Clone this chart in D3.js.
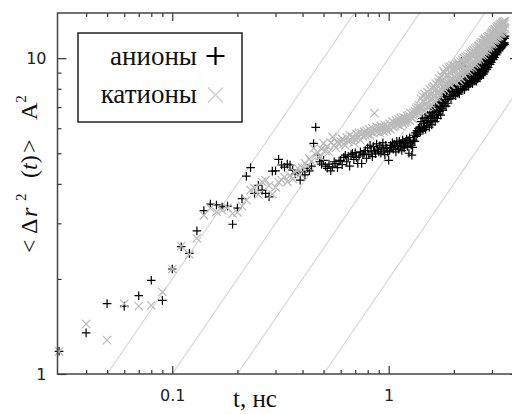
<!DOCTYPE html>
<html>
<head>
<meta charset="utf-8">
<script src="https://cdn.jsdelivr.net/npm/d3@7"></script>
<style>
  body { margin: 0; background: #fff; }
  .serif { font-family: "Liberation Serif", "Times New Roman", serif; }
</style>
</head>
<body>
<div id="chart"></div>
<script>
// time grid of the run, ns
const tFirst = 0.03;
const tStep = 0.01;

// <dr^2(t)>, A^2, one value per time step (t = 0.03 ... 3.45 ns)
const anions = [
  1.18, 1.35, 1.67, 1.64, 1.77, 1.98, 1.71,
  2.15, 2.53, 2.41, 2.84, 3.29, 3.45, 3.43, 3.38, 3.40, 2.98,
  3.35, 3.59, 4.23, 4.50, 3.73, 3.96, 3.82, 3.73, 3.64, 4.39,
  4.40, 4.78, 4.59, 4.52, 4.62, 4.59, 4.42, 4.30, 4.36, 4.11,
  4.37, 4.27, 4.48, 4.40, 4.55, 5.37, 6.04, 4.93, 4.70, 4.62,
  4.75, 4.55, 4.48, 4.62, 4.40, 4.53, 4.70, 4.64, 4.50, 4.72,
  4.75, 4.60, 4.85, 4.93, 4.70, 4.88, 4.55, 4.95, 5.00, 4.78,
  5.02, 4.85, 4.64, 4.90, 5.05, 4.64, 4.95, 5.00, 5.10, 4.82,
  5.20, 4.95, 5.30, 5.05, 4.88, 5.25, 5.10, 4.98, 5.35, 5.15,
  5.05, 5.28, 5.00, 5.20, 5.40, 5.12, 4.95, 5.30, 5.18, 5.05,
  4.75, 5.10, 5.30, 5.22, 5.40, 5.15, 5.35, 5.25, 5.05, 5.45,
  5.30, 5.15, 5.45, 5.25, 5.38, 5.10, 5.50, 5.30, 5.20, 5.42,
  5.35, 5.55, 5.25, 5.48, 5.00, 5.60, 5.40, 5.30, 4.93, 5.22,
  5.50, 5.70, 5.45, 5.80, 5.65, 5.90, 5.75, 6.00, 5.85, 6.05,
  5.85, 6.30, 6.00, 6.45, 5.90, 6.20, 6.05, 6.50, 5.95, 6.35,
  6.10, 6.60, 6.25, 6.45, 6.05, 6.70, 6.30, 6.55, 6.15, 6.75,
  6.35, 6.90, 6.50, 6.75, 6.30, 7.00, 6.60, 6.85, 6.45, 7.10,
  6.65, 7.25, 6.80, 7.05, 6.60, 7.40, 6.95, 7.20, 6.85, 7.55,
  7.10, 7.70, 7.30, 7.55, 7.05, 7.85, 7.40, 7.95, 7.20, 8.05,
  7.55, 8.20, 7.70, 8.05, 7.45, 8.30, 7.80, 8.10, 7.60, 8.35,
  7.70, 8.30, 7.85, 8.15, 7.60, 8.45, 7.95, 8.25, 7.75, 8.50,
  7.85, 8.40, 7.70, 8.55, 8.00, 8.35, 7.90, 9.75, 9.45, 8.60,
  8.00, 8.65, 8.15, 8.50, 7.95, 8.75, 8.25, 8.60, 8.10, 8.85,
  8.20, 8.80, 8.35, 8.65, 8.15, 8.95, 8.40, 8.75, 8.30, 9.05,
  8.35, 9.00, 8.50, 8.85, 8.30, 9.10, 8.60, 8.95, 8.45, 9.20,
  8.50, 9.15, 8.65, 9.05, 8.45, 9.30, 8.80, 9.15, 8.60, 9.40,
  8.70, 9.35, 8.85, 9.20, 8.65, 9.50, 9.00, 9.30, 8.80, 9.60,
  8.95, 9.65, 9.10, 9.45, 8.90, 9.80, 9.25, 9.60, 9.05, 9.90,
  9.25, 9.95, 9.40, 9.80, 9.20, 10.1, 9.55, 9.90, 9.35, 10.2,
  9.60, 10.3, 9.75, 10.15, 9.55, 10.4, 9.90, 10.25, 9.70, 10.5,
  9.95, 10.6, 10.1, 10.45, 9.90, 10.7, 10.2, 10.55, 10.05, 10.8,
  10.3, 10.9, 10.45, 10.75, 10.25, 11.0, 10.55, 10.85, 10.4, 11.1,
  10.6, 11.2, 10.75, 11.05, 10.55, 11.3, 10.85, 11.15, 10.7, 11.4,
  10.9, 11.5, 11.0, 11.35, 10.85, 11.55, 11.1, 11.45, 10.95, 11.6,
  11.1, 11.7, 11.2, 11.55, 11.05, 11.75
];

const cations = [
  1.18, 1.44, 1.28, 1.67, 1.64, 1.65, 1.82,
  2.15, 2.54, 2.39, 2.69, 3.18, 3.35, 3.26, 3.30, 3.36, 3.22,
  3.25, 3.40, 3.55, 3.82, 3.88, 3.70, 4.06, 4.11, 3.95, 3.71,
  3.90, 4.05, 4.11, 4.20, 4.06, 4.25, 4.15, 4.35, 4.48, 4.30,
  4.50, 4.65, 4.55, 4.80, 4.70, 5.18, 4.95, 5.05, 4.90, 5.15,
  5.37, 5.10, 5.25, 5.05, 5.40, 5.63, 5.30, 5.20, 5.45, 5.35,
  5.44, 5.55, 5.35, 5.30, 5.60, 5.45, 5.70, 5.50, 5.63, 5.40,
  5.55, 5.75, 5.60, 5.80, 5.50, 5.78, 5.65, 5.85, 5.70, 5.90,
  5.75, 5.95, 5.70, 5.85, 6.00, 5.80, 6.70, 5.90, 6.05, 5.85,
  6.00, 5.80, 6.10, 5.95, 6.05, 5.85, 6.15, 6.00, 5.90, 6.10,
  6.00, 6.20, 5.95, 6.15, 6.30, 6.05, 6.25, 6.10, 6.35, 6.20,
  6.15, 6.40, 6.25, 6.10, 6.45, 6.30, 6.20, 6.50, 6.35, 6.25,
  6.45, 6.30, 6.55, 6.40, 6.60, 6.35, 6.70, 6.50, 6.65, 6.45,
  6.70, 6.55, 6.80, 6.65, 6.90, 6.75, 7.00, 6.85, 7.10, 6.95,
  6.75, 7.45, 6.95, 7.60, 7.05, 7.30, 6.80, 7.70, 7.15, 7.50,
  7.00, 7.80, 7.25, 7.55, 7.05, 7.95, 7.35, 7.70, 7.10, 8.05,
  7.40, 8.15, 7.60, 7.90, 7.30, 8.30, 7.75, 8.00, 7.50, 8.40,
  7.80, 8.60, 7.65, 8.35, 8.00, 8.80, 7.90, 8.50, 8.10, 9.10,
  8.20, 8.95, 7.95, 8.70, 8.35, 9.25, 8.15, 8.85, 8.40, 9.35,
  8.30, 9.05, 8.55, 9.40, 8.25, 8.95, 8.60, 9.50, 8.45, 9.20,
  8.50, 9.45, 8.70, 9.15, 8.40, 9.60, 8.85, 9.30, 8.60, 9.70,
  8.75, 9.55, 8.50, 9.35, 8.90, 9.75, 8.65, 9.45, 9.00, 9.85,
  8.95, 9.70, 9.15, 10.0, 8.80, 9.60, 9.25, 10.1, 9.05, 9.85,
  9.20, 10.15, 9.40, 9.90, 9.10, 10.3, 9.50, 10.05, 9.30, 10.4,
  9.45, 10.3, 9.65, 10.5, 9.35, 10.1, 9.80, 10.6, 9.55, 10.35,
  9.70, 10.7, 9.90, 10.45, 9.60, 10.8, 10.0, 10.55, 9.85, 10.9,
  10.1, 10.95, 10.3, 10.7, 9.95, 11.1, 10.4, 10.85, 10.2, 11.2,
  10.35, 11.25, 10.5, 11.0, 10.25, 11.4, 10.65, 11.15, 10.45, 11.5,
  10.6, 11.45, 10.8, 11.3, 10.55, 11.65, 10.9, 11.4, 10.75, 11.75,
  10.95, 11.7, 11.1, 11.55, 10.85, 11.9, 11.2, 11.65, 11.05, 12.0,
  11.2, 12.1, 11.4, 11.85, 11.1, 12.25, 11.5, 12.0, 11.35, 12.35,
  11.5, 12.3, 11.7, 12.15, 11.45, 12.5, 11.8, 12.4, 11.65, 12.6,
  11.8, 12.6, 12.0, 12.45, 11.75, 12.75, 12.1, 12.55, 11.95, 12.85,
  12.05, 12.8, 12.25, 12.7, 12.0, 12.95, 12.35, 12.8, 12.2, 13.05,
  12.3, 13.0, 12.5, 12.85, 12.4, 13.1
];

const xMajor = [0.1, 1];
const xMinor = [0.04, 0.05, 0.06, 0.07, 0.08, 0.09, 0.2, 0.3, 0.4, 0.5, 0.6, 0.7, 0.8, 0.9, 2, 3];
const yMajor = [1, 10];
const yMinor = [2, 3, 4, 5, 6, 7, 8, 9];
const guideCoefs = [20, 10, 5, 2]; // gray guide lines <r2> = c * t
const seriesNames = ["анионы", "катионы"];

const drawChart = () => {
  var width = 512,
    height = 414;
  var plot = { left: 57.5, right: 519, top: 13, bottom: 374 };

  var svg = d3
    .select("#chart")
    .append("svg")
    .attr("width", width)
    .attr("height", height)
    .style("display", "block");

  var x = d3.scaleLog().domain([0.0295, 4]).range([plot.left, plot.right]);
  var y = d3.scaleLog().domain([1, 13.9]).range([plot.bottom, plot.top]);
  var tAt = (i) => +(tFirst + i * tStep).toFixed(2);

  svg
    .append("clipPath")
    .attr("id", "clip")
    .append("rect")
    .attr("x", plot.left)
    .attr("y", plot.top)
    .attr("width", plot.right - plot.left)
    .attr("height", plot.bottom - plot.top);

  // guide lines
  var line = d3
    .line()
    .x((d) => x(d[0]))
    .y((d) => y(d[1]));
  svg
    .append("g")
    .attr("clip-path", "url(#clip)")
    .selectAll("path")
    .data(guideCoefs)
    .join("path")
    .attr("d", (c) => line([[1 / c, 1], [4, 4 * c]]))
    .attr("fill", "none")
    .attr("stroke", "#d4d4d4")
    .attr("stroke-width", 1.1);

  // anions (+)
  svg
    .append("g")
    .selectAll("path")
    .data(anions)
    .join("path")
    .attr("transform", (d, i) => "translate(" + x(tAt(i)) + "," + y(d) + ")")
    .attr("d", "M-4.3,0H4.3M0,-4.3V4.3")
    .attr("stroke", "#000")
    .attr("stroke-width", 1.2);

  // cations (x)
  svg
    .append("g")
    .selectAll("path")
    .data(cations)
    .join("path")
    .attr("transform", (d, i) => "translate(" + x(tAt(i)) + "," + y(d) + ")")
    .attr("d", "M-4.2,-4.2L4.2,4.2M-4.2,4.2L4.2,-4.2")
    .attr("stroke", "#bababa")
    .attr("stroke-width", 1.2);

  // axes, ticks pointing inwards on all four sides
  var fmt = d3.format("~g");
  var tickStyle = (g) => {
    g.select(".domain").remove();
    g.selectAll(".tick line").attr("stroke", "#333").attr("stroke-width", 1.2);
    g.selectAll(".tick text")
      .attr("fill", "#222")
      .style("font-family", "DejaVu Sans")
      .style("font-size", "16px");
  };

  svg.append("g")
    .attr("transform", "translate(0," + plot.bottom + ")")
    .call(d3.axisBottom(x).tickValues(xMajor).tickSize(-8).tickPadding(16).tickFormat(fmt))
    .call(tickStyle);
  svg.append("g")
    .attr("transform", "translate(0," + plot.bottom + ")")
    .call(d3.axisBottom(x).tickValues(xMinor).tickSize(-4).tickFormat(""))
    .call(tickStyle);
  svg.append("g")
    .attr("transform", "translate(0," + plot.top + ")")
    .call(d3.axisTop(x).tickValues(xMajor).tickSize(-8).tickFormat(""))
    .call(tickStyle);
  svg.append("g")
    .attr("transform", "translate(0," + plot.top + ")")
    .call(d3.axisTop(x).tickValues(xMinor).tickSize(-4).tickFormat(""))
    .call(tickStyle);

  svg.append("g")
    .attr("transform", "translate(" + plot.left + ",0)")
    .call(d3.axisLeft(y).tickValues(yMajor).tickSize(-9).tickPadding(11).tickFormat(fmt))
    .call(tickStyle);
  svg.append("g")
    .attr("transform", "translate(" + plot.left + ",0)")
    .call(d3.axisLeft(y).tickValues(yMinor).tickSize(-4).tickFormat(""))
    .call(tickStyle);
  svg.append("g")
    .attr("transform", "translate(" + plot.right + ",0)")
    .call(d3.axisRight(y).tickValues(yMajor).tickSize(-9).tickFormat(""))
    .call(tickStyle);
  svg.append("g")
    .attr("transform", "translate(" + plot.right + ",0)")
    .call(d3.axisRight(y).tickValues(yMinor).tickSize(-4).tickFormat(""))
    .call(tickStyle);

  // frame
  svg
    .append("rect")
    .attr("x", plot.left)
    .attr("y", plot.top)
    .attr("width", plot.right - plot.left)
    .attr("height", plot.bottom - plot.top)
    .attr("fill", "none")
    .attr("stroke", "#444")
    .attr("stroke-width", 1.5);

  // x-axis label
  svg
    .append("text")
    .attr("class", "serif")
    .attr("x", 233)
    .attr("y", 407)
    .style("font-size", "25px")
    .attr("fill", "#111")
    .text("t, нс");

  // y-axis label, read bottom to top; pieces placed along the rotated baseline
  var yl = svg
    .append("text")
    .attr("class", "serif")
    .attr("transform", "translate(37,253) rotate(-90)")
    .style("font-size", "24px")
    .attr("fill", "#111");
  yl.append("tspan").attr("x", 0).text("<");
  yl.append("tspan").attr("x", 19).text("Δ");
  yl.append("tspan").attr("x", 36).style("font-style", "italic").text("r");
  yl.append("tspan").attr("x", 52).attr("dy", -11).style("font-size", "15px").text("2");
  yl.append("tspan").attr("x", 75).attr("dy", 11).text("(");
  yl.append("tspan").style("font-style", "italic").text("t");
  yl.append("tspan").text(")");
  yl.append("tspan").attr("x", 100).text(">");
  yl.append("tspan").attr("x", 133).text("A");
  yl.append("tspan").attr("dy", -11).style("font-size", "15px").text("2");

  // legend
  var legend = svg.append("g");
  legend
    .append("rect")
    .attr("x", 78)
    .attr("y", 33)
    .attr("width", 164)
    .attr("height", 89)
    .attr("fill", "#fff")
    .attr("stroke", "#222")
    .attr("stroke-width", 1.5);

  legend
    .selectAll("text")
    .data(seriesNames)
    .join("text")
    .attr("class", "serif")
    .attr("x", 197)
    .attr("y", (d, i) => 65 + i * 38)
    .attr("text-anchor", "end")
    .style("font-size", "27px")
    .attr("fill", "#111")
    .text((d) => d);

  legend
    .append("path")
    .attr("transform", "translate(215.5,56)")
    .attr("d", "M-9,0H9M0,-9V9")
    .attr("stroke", "#000")
    .attr("stroke-width", 2.2);
  legend
    .append("path")
    .attr("transform", "translate(215.5,95)")
    .attr("d", "M-7.5,-7.5L7.5,7.5M-7.5,7.5L7.5,-7.5")
    .attr("stroke", "#cfcfcf")
    .attr("stroke-width", 1.6);
};

drawChart();
</script>
</body>
</html>
